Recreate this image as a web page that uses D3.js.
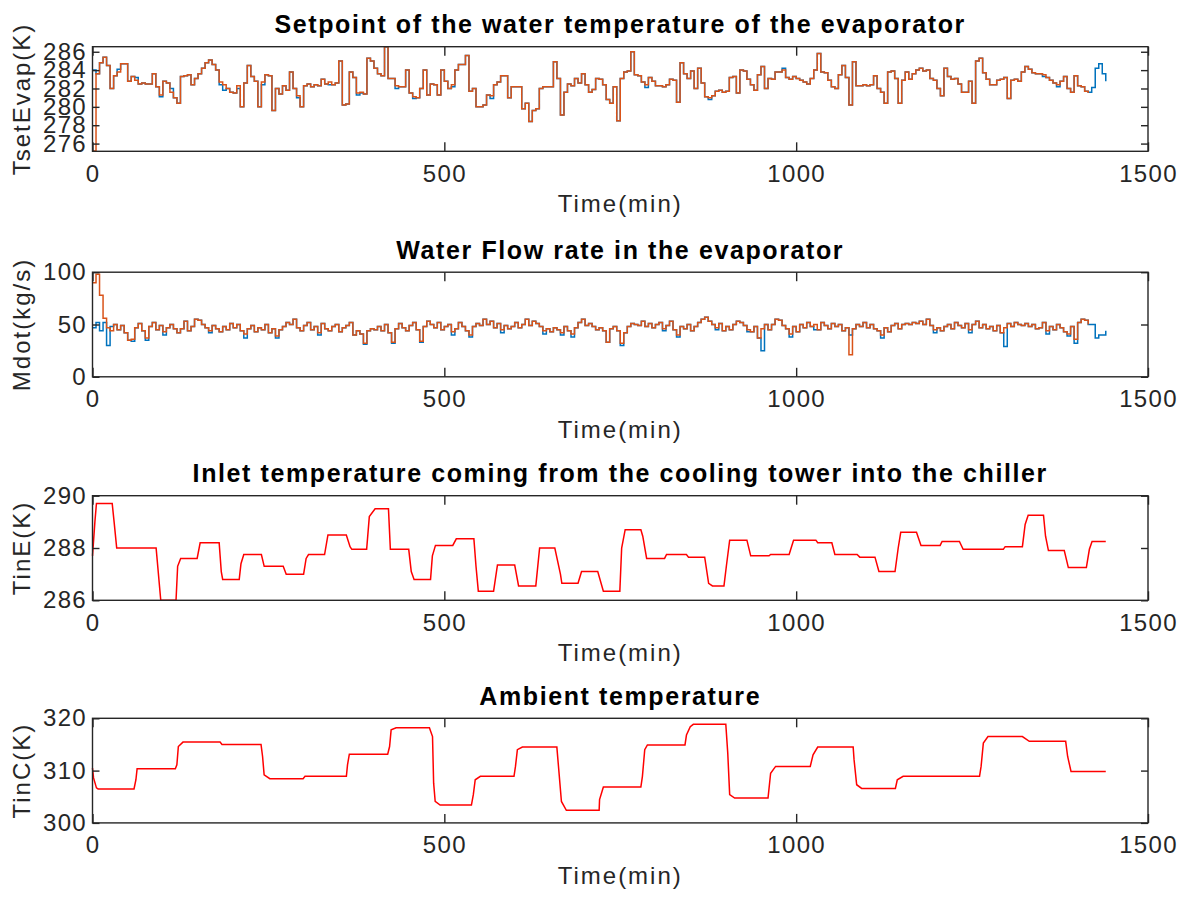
<!DOCTYPE html>
<html>
<head>
<meta charset="utf-8">
<script src="https://cdn.jsdelivr.net/npm/d3@7"></script>
<style>
  html, body { margin: 0; padding: 0; background: #fff; }
  svg { display: block; font-family: "Liberation Sans", Arial, Helvetica, sans-serif; }
</style>
</head>
<body>
<svg id="fig" width="1189" height="900"></svg>
<script>
// ---------------- data ----------------
// Sampling interval (min) of the evaporator setpoint / flow series
const sampleStep = 5;

// Evaporator water temperature setpoint (K), measured (orange) and reference (blue)
const tsetMeasured = [
  275.2, 283.6, 284.8, 285.4, 284.5, 282.0, 283.4, 283.8, 284.7, 284.7, 282.8, 283.3,
  282.9, 282.5, 282.6, 282.5, 282.5, 283.6, 282.2, 281.3, 282.8, 282.6, 281.6, 281.0,
  280.4, 283.3, 283.4, 283.5, 282.4, 283.1, 283.6, 284.2, 284.8, 285.1, 284.6, 284.0,
  282.7, 282.4, 282.0, 281.6, 281.5, 282.3, 280.0, 282.6, 284.5, 283.3, 282.8, 280.0,
  282.7, 283.5, 283.4, 279.6, 282.0, 281.4, 282.3, 281.8, 283.8, 282.0, 281.2, 280.0,
  282.3, 282.5, 282.2, 282.4, 282.3, 283.0, 282.5, 282.7, 282.4, 282.6, 285.0, 280.2,
  280.3, 283.8, 283.2, 281.5, 281.6, 281.4, 285.3, 285.0, 284.2, 283.6, 283.4, 286.55,
  283.1, 283.1, 282.3, 282.2, 282.2, 284.0, 281.5, 281.1, 281.0, 282.0, 284.0, 281.3,
  282.5, 282.4, 281.3, 284.0, 282.8, 282.0, 282.4, 284.0, 284.6, 284.6, 285.6, 281.7,
  282.0, 280.0, 280.0, 280.2, 281.3, 281.2, 282.4, 282.7, 283.4, 283.4, 281.0, 282.2,
  282.2, 282.2, 279.8, 280.4, 278.4, 279.6, 279.8, 282.0, 282.2, 282.2, 282.2, 284.9,
  283.1, 279.1, 281.6, 282.5, 282.3, 283.1, 282.6, 283.6, 282.4, 281.6, 281.9, 283.1,
  283.0, 282.4, 280.8, 280.4, 282.2, 278.5, 283.1, 283.8, 283.9, 286.0, 283.5, 283.4,
  282.7, 282.4, 283.2, 282.8, 282.3, 282.3, 282.2, 282.4, 283.0, 282.9, 280.5, 284.8,
  283.6, 283.1, 283.9, 282.0, 284.2, 282.6, 281.1, 281.0, 281.2, 281.7, 281.8, 281.6,
  281.7, 283.2, 283.3, 281.5, 284.0, 283.9, 283.0, 282.4, 281.8, 283.5, 284.4, 282.0,
  283.1, 283.0, 283.8, 283.8, 284.0, 283.2, 283.0, 283.3, 283.1, 282.9, 282.7, 282.5,
  283.1, 284.0, 285.8, 283.8, 283.7, 282.9, 282.2, 282.0, 283.5, 284.5, 283.2, 280.2,
  284.9, 282.3, 282.3, 282.4, 282.3, 282.4, 283.4, 282.0, 281.6, 280.4, 283.8, 283.9,
  283.1, 280.4, 282.9, 283.8, 283.0, 283.6, 284.0, 284.2, 283.9, 284.0, 283.1, 282.9,
  282.0, 281.2, 284.2, 283.3, 283.0, 283.1, 282.5, 281.6, 281.6, 282.8, 280.4, 285.0,
  285.3, 283.7, 283.0, 282.4, 282.4, 282.9, 283.0, 283.2, 280.9, 282.9, 283.0, 282.8,
  283.8, 284.4, 284.1, 283.7, 283.6, 283.6, 283.5, 283.2, 282.9, 282.6, 282.4, 282.8,
  283.3, 282.0, 281.6, 283.4, 282.3, 282.2, 281.7, 281.5
];
const tsetReference = [
  284.0, 283.6, 284.8, 285.4, 284.5, 282.0, 283.4, 284.1, 284.7, 284.7, 282.8, 283.3,
  283.2, 282.5, 282.6, 282.5, 282.5, 283.6, 282.2, 281.1, 282.8, 282.6, 282.0, 281.0,
  280.4, 283.3, 283.4, 283.5, 282.4, 283.1, 283.6, 284.2, 284.8, 285.1, 284.6, 284.0,
  282.4, 281.8, 282.0, 281.6, 281.5, 282.0, 280.0, 282.6, 284.5, 283.3, 282.8, 280.0,
  282.4, 283.5, 283.4, 279.6, 282.0, 281.4, 282.3, 281.8, 283.8, 282.0, 281.0, 280.0,
  282.3, 282.5, 282.2, 282.4, 282.3, 283.0, 282.5, 282.4, 282.4, 282.6, 285.0, 280.2,
  280.3, 283.8, 283.2, 281.3, 281.5, 281.4, 285.3, 285.0, 284.2, 283.6, 283.4, 286.55,
  283.1, 283.1, 282.0, 282.2, 282.2, 284.0, 281.5, 280.9, 281.0, 282.0, 284.0, 281.3,
  282.5, 282.4, 281.3, 284.0, 282.8, 282.0, 282.2, 284.0, 284.6, 284.6, 285.6, 281.7,
  282.0, 280.0, 280.0, 280.2, 281.3, 280.9, 282.4, 282.7, 283.4, 283.4, 281.0, 282.2,
  282.2, 282.2, 279.8, 280.4, 278.4, 279.6, 279.8, 282.0, 282.2, 282.2, 282.2, 284.9,
  283.1, 279.1, 281.6, 282.5, 282.3, 283.1, 282.6, 283.6, 282.4, 281.6, 281.9, 283.1,
  283.0, 282.4, 280.8, 280.4, 282.2, 278.5, 283.1, 283.8, 283.9, 286.0, 283.5, 283.4,
  282.7, 282.1, 283.2, 282.8, 282.3, 282.3, 282.2, 282.4, 283.0, 282.9, 280.5, 284.8,
  283.6, 283.1, 283.9, 282.0, 284.2, 282.6, 281.1, 280.8, 281.2, 281.7, 281.8, 281.6,
  281.7, 283.2, 283.3, 281.5, 284.0, 283.9, 283.0, 282.4, 281.8, 283.5, 284.4, 282.0,
  283.1, 283.0, 283.8, 283.8, 284.2, 283.2, 283.0, 283.3, 283.1, 282.9, 282.7, 282.5,
  283.1, 284.0, 285.8, 283.8, 283.7, 282.9, 282.2, 282.0, 283.5, 284.5, 283.2, 280.2,
  284.9, 282.3, 282.3, 282.4, 282.3, 282.4, 283.4, 282.0, 281.6, 280.4, 283.8, 283.9,
  283.1, 280.4, 282.9, 283.8, 283.0, 283.6, 284.0, 284.2, 283.9, 284.0, 283.1, 282.9,
  282.0, 281.2, 284.2, 283.3, 283.0, 283.1, 282.5, 281.6, 281.6, 282.8, 280.4, 285.0,
  285.3, 283.7, 283.0, 282.4, 282.4, 282.9, 283.0, 283.2, 280.9, 282.9, 283.0, 282.8,
  283.8, 284.4, 284.1, 283.7, 283.6, 283.6, 283.3, 283.2, 282.9, 282.6, 282.2, 282.8,
  283.3, 282.0, 281.6, 283.4, 282.3, 282.2, 281.7, 281.6, 282.1, 284.2, 284.7, 283.6,
  282.8
];

// Evaporator water flow rate (kg/s), measured (orange) and reference (blue)
const mdotMeasured = [
  90, 98, 78, 56, 47, 44, 50, 45, 49, 42, 35, 36,
  47, 51, 44, 37, 48, 52, 45, 49, 43, 47, 50, 46,
  42, 46, 53, 44, 48, 55, 54, 50, 47, 44, 49, 46,
  43, 48, 45, 51, 47, 50, 44, 41, 46, 49, 43, 47,
  45, 50, 42, 46, 39, 45, 48, 52, 50, 55, 47, 44,
  49, 52, 45, 48, 42, 51, 46, 44, 48, 50, 43, 47,
  49, 52, 40, 44, 41, 32, 44, 46, 45, 48, 44, 50,
  42, 33, 46, 51, 47, 44, 49, 52, 45, 34, 48, 53,
  50, 47, 52, 45, 48, 50, 43, 46, 52, 48, 44, 40,
  48, 51, 49, 55, 50, 53, 47, 51, 45, 49, 46, 48,
  52, 47, 50, 55, 49, 53, 51, 48, 44, 46, 43, 47,
  45, 42, 48, 44, 41, 47, 52, 55, 49, 51, 48, 45,
  47, 44, 33, 46, 48, 44, 32, 42, 48, 51, 50, 49,
  53, 48, 51, 47, 50, 52, 46, 49, 53, 45, 40, 48,
  46, 50, 44, 48, 52, 55, 57, 53, 50, 47, 51, 44,
  48, 45, 50, 53, 52, 49, 45, 43, 48, 37, 46, 50,
  45, 50, 55, 54, 49, 46, 41, 48, 43, 50, 47, 52,
  48, 50, 45, 52, 49, 46, 51, 48, 50, 44, 47, 21,
  46, 50, 48, 52, 47, 50, 46, 44, 40, 47, 43, 49,
  51, 46, 50, 51, 50, 52, 51, 53, 50, 55, 49, 45,
  47, 44, 48, 50, 46, 52, 49, 47, 51, 45, 50, 53,
  47, 50, 46, 48, 44, 49, 42, 47, 51, 48, 52, 50,
  49, 51, 48, 50, 46, 47, 52, 44, 48, 45, 50, 47,
  43, 41, 48, 36, 52, 55, 54, 50
];
const mdotReference = [
  47, 52, 44, 52, 30, 48, 50, 45, 49, 42, 35, 34,
  47, 51, 44, 35, 48, 52, 45, 49, 40, 47, 50, 46,
  42, 46, 53, 44, 48, 55, 54, 50, 47, 42, 49, 46,
  43, 48, 45, 51, 47, 50, 44, 37, 46, 49, 43, 47,
  45, 50, 42, 46, 37, 45, 48, 52, 50, 55, 47, 44,
  49, 52, 45, 48, 40, 51, 46, 44, 48, 50, 43, 47,
  49, 52, 40, 44, 41, 31, 44, 46, 45, 48, 44, 50,
  42, 32, 46, 51, 47, 44, 49, 52, 45, 33, 48, 53,
  50, 47, 52, 45, 48, 50, 40, 46, 52, 48, 44, 38,
  48, 51, 49, 55, 50, 53, 47, 51, 42, 49, 46, 48,
  52, 47, 50, 55, 49, 53, 51, 48, 41, 46, 43, 47,
  45, 40, 48, 44, 38, 47, 52, 55, 49, 51, 48, 45,
  47, 44, 33, 46, 48, 44, 30, 42, 48, 51, 50, 49,
  53, 48, 51, 47, 50, 52, 44, 49, 53, 45, 38, 48,
  46, 50, 44, 48, 52, 55, 57, 53, 50, 45, 51, 44,
  48, 45, 50, 53, 52, 49, 43, 43, 48, 37, 25, 50,
  45, 50, 55, 54, 49, 46, 38, 48, 43, 50, 47, 52,
  48, 45, 45, 52, 49, 46, 51, 48, 50, 44, 47, 40,
  46, 50, 48, 52, 47, 50, 46, 44, 37, 47, 43, 49,
  51, 46, 50, 51, 50, 52, 51, 53, 50, 55, 49, 42,
  47, 44, 48, 50, 46, 52, 49, 47, 51, 42, 50, 53,
  47, 50, 46, 48, 44, 49, 42, 29, 51, 48, 52, 50,
  49, 51, 48, 50, 46, 47, 52, 41, 48, 45, 50, 47,
  43, 39, 48, 32, 52, 55, 54, 50, 50, 37, 40, 40,
  44
];

// Cooling tower water inlet temperature (K): breakpoints (min) and values
const tinETime = [
  0, 3.4, 5.6, 28, 30.7, 34.4, 90.4, 97, 118.7, 121, 125.3, 148.7, 153, 180, 183, 185,
  208.5, 211, 215, 240, 244, 271, 275.3, 300, 303.6, 307, 329.8, 334.6, 360.7, 366,
  368.5, 389.6, 393.4, 401.6, 420.6, 423.3, 449.4, 453, 457, 480.4, 483, 487.4, 512,
  517, 542, 545, 548.3, 570, 575.5, 600, 605.5, 630, 635.4, 657, 665, 667, 690, 695,
  718, 726, 749.4, 752, 757, 779.3, 782, 787.5, 813, 815.8, 844, 847, 870, 875.6, 881,
  897.4, 901, 905.5, 930, 935.4, 961.5, 963.7, 990, 996.3, 1028, 1030.6, 1050.7, 1055,
  1086.6, 1090.4, 1112, 1117.6, 1140.5, 1145, 1148.6, 1171, 1177.4, 1204.6, 1207.4,
  1232, 1237.3, 1294.4, 1297, 1321.5, 1325.4, 1329.7, 1351.5, 1354.4, 1358.5, 1381,
  1386.8, 1412.4, 1416.7, 1420.5, 1440
];
const tinEValue = [
  287.7, 289.0, 289.7, 289.7, 289.0, 288.0, 288.0, 286.0, 286.0, 287.3, 287.6, 287.6,
  288.2, 288.2, 287.1, 286.8, 286.8, 287.4, 287.75, 287.75, 287.3, 287.3, 287.0, 287.0,
  287.6, 287.75, 287.75, 288.5, 288.5, 288.05, 287.95, 287.95, 289.2, 289.5, 289.5,
  287.95, 287.95, 287.1, 286.8, 286.8, 287.7, 288.1, 288.1, 288.35, 288.35, 287.3,
  286.35, 286.35, 287.35, 287.35, 286.55, 286.55, 288.0, 288.0, 287.0, 286.65, 286.65,
  287.1, 287.1, 286.35, 286.35, 288.0, 288.7, 288.7, 288.45, 287.6, 287.6, 287.75,
  287.75, 287.65, 287.65, 286.65, 286.55, 286.55, 287.35, 288.3, 288.3, 287.7, 287.7,
  287.75, 287.75, 288.3, 288.3, 288.2, 288.2, 287.75, 287.75, 287.65, 287.65, 287.1,
  287.1, 288.0, 288.6, 288.6, 288.1, 288.1, 288.25, 288.25, 287.95, 287.95, 288.05,
  288.05, 288.9, 289.25, 289.25, 288.45, 287.9, 287.9, 287.25, 287.25, 287.95, 288.25,
  288.25
];

// Ambient temperature (K): breakpoints (min) and values
const tinCTime = [
  0, 1.5, 5.6, 8, 59, 61.7, 63.4, 117.7, 119.9, 122, 128.6, 181.3, 184, 239.5, 241.7,
  243.9, 252, 299.3, 302, 360.8, 362.4, 365, 419.5, 422.2, 424.4, 431.5, 478.8, 483.2,
  484.8, 487, 494, 538.5, 541.2, 543.9, 551.2, 599, 601.1, 603.8, 610.9, 659.9, 662.6,
  666.4, 673.4, 720, 720.6, 726, 779.3, 781.5, 784.8, 788.6, 842, 844.1, 849.5, 853.8,
  900, 902.8, 905.5, 912.6, 960, 963.7, 970.8, 1020, 1024, 1030.6, 1081, 1082.3, 1086,
  1093, 1141, 1143.7, 1152, 1260.6, 1262.8, 1266, 1272.6, 1321.5, 1331.3, 1383,
  1385.8, 1390.6, 1440
];
const tinCValue = [
  310.5, 308.6, 306.7, 306.5, 306.5, 308.25, 310.35, 310.35, 311.1, 314.6, 315.45,
  315.45, 315.0, 315.0, 312.7, 309.2, 308.45, 308.45, 308.9, 308.9, 311.1, 313.15,
  313.15, 314.6, 317.8, 318.2, 318.2, 316.5, 307.6, 304.1, 303.4, 303.4, 305.4, 308.25,
  308.9, 308.9, 310.8, 314.0, 314.5, 314.5, 310.2, 304.1, 302.4, 302.4, 304.45, 306.85,
  306.85, 308.9, 314.0, 314.9, 314.9, 316.8, 318.4, 318.85, 318.85, 313.3, 305.4,
  304.75, 304.75, 309.5, 310.8, 310.8, 313.0, 314.5, 314.5, 312.05, 307.3, 306.6, 306.6,
  308.25, 308.9, 308.9, 310.8, 315.25, 316.5, 316.5, 315.6, 315.6, 312.7, 309.85,
  309.85
];

// Axis settings
const xDomain = [0, 1500];
const xTicks = [0, 500, 1000, 1500];
const panelTitles = [
  "Setpoint of the water temperature of the evaporator",
  "Water Flow rate in the evaporator",
  "Inlet temperature coming from the cooling tower into the chiller",
  "Ambient temperature"
];
const yLabels = ["TsetEvap(K)", "Mdot(kg/s)", "TinE(K)", "TinC(K)"];
const yDomains = [[275.16, 286.55], [0, 100], [286, 290], [300, 320]];
const yTicks = [[276, 278, 280, 282, 284, 286], [0, 50, 100], [286, 288, 290], [300, 310, 320]];
const xLabel = "Time(min)";

// ---------------- layout ----------------
const plotLeft = 92.5, plotRight = 1148;
const panelTops = [46.7, 272.2, 495.7, 718.3];
const panelH = 104.6;
const axisColor = "#262626";
const blue = "#0072BD", orange = "#D95319", red = "#FF0000";
const tickFmt = d3.format("d");

const sampled = (vals) => vals.map((v, i) => ({ t: i * sampleStep, v }));
const paired = (ts, vs) => ts.map((t, i) => ({ t, v: vs[i] }));

const panels = [
  { series: [
      { data: sampled(tsetReference), color: blue, curve: d3.curveStepAfter },
      { data: sampled(tsetMeasured), color: orange, curve: d3.curveStepAfter } ] },
  { series: [
      { data: sampled(mdotReference), color: blue, curve: d3.curveStepAfter },
      { data: sampled(mdotMeasured), color: orange, curve: d3.curveStepAfter } ] },
  { series: [ { data: paired(tinETime, tinEValue), color: red, curve: d3.curveLinear } ] },
  { series: [ { data: paired(tinCTime, tinCValue), color: red, curve: d3.curveLinear } ] }
];

const svg = d3.select("#fig");
const x = d3.scaleLinear().domain(xDomain).range([plotLeft, plotRight]);
const cx = (plotLeft + plotRight) / 2;

panels.forEach((p, k) => {
  const top = panelTops[k], bottom = top + panelH;
  const y = d3.scaleLinear().domain(yDomains[k]).range([bottom, top]);
  const g = svg.append("g");

  // data lines
  const line = (curve) => d3.line().x(d => x(d.t)).y(d => y(d.v)).curve(curve);
  p.series.forEach(s => {
    g.append("path")
      .datum(s.data)
      .attr("fill", "none")
      .attr("stroke", s.color)
      .attr("stroke-width", 1.5)
      .attr("stroke-linejoin", "miter")
      .attr("d", line(s.curve));
  });

  // axes with inward ticks on all four sides
  const bottomAxis = d3.axisBottom(x).tickValues(xTicks).tickFormat(tickFmt)
    .tickSizeInner(-9).tickSizeOuter(0).tickPadding(13.5);
  const topAxis = d3.axisTop(x).tickValues(xTicks).tickSizeInner(-9).tickSizeOuter(0).tickFormat("");
  const leftAxis = d3.axisLeft(y).tickValues(yTicks[k]).tickFormat(tickFmt)
    .tickSizeInner(-7).tickSizeOuter(0).tickPadding(5.5);
  const rightAxis = d3.axisRight(y).tickValues(yTicks[k]).tickSizeInner(-7).tickSizeOuter(0).tickFormat("");

  const styleAxis = (sel) => {
    sel.select(".domain").remove();
    sel.selectAll("line").attr("stroke", axisColor).attr("stroke-width", 1.4);
    sel.selectAll("text")
      .attr("fill", axisColor)
      .style("font-size", "24px")
      .style("letter-spacing", "1.3px")
      .style("font-family", "'Liberation Sans', Arial, sans-serif");
  };
  g.append("g").attr("transform", `translate(0,${bottom})`).call(bottomAxis).call(styleAxis);
  g.append("g").attr("transform", `translate(0,${top})`).call(topAxis).call(styleAxis);
  g.append("g").attr("transform", `translate(${plotLeft},0)`).call(leftAxis).call(styleAxis);
  g.append("g").attr("transform", `translate(${plotRight},0)`).call(rightAxis).call(styleAxis);

  // box
  g.append("rect")
    .attr("x", plotLeft).attr("y", top)
    .attr("width", plotRight - plotLeft).attr("height", panelH)
    .attr("fill", "none").attr("stroke", axisColor).attr("stroke-width", 1.4);

  // title
  g.append("text")
    .attr("x", cx).attr("y", top - 13.5)
    .attr("text-anchor", "middle")
    .attr("fill", "#000")
    .style("font-size", "25px").style("font-weight", "bold")
    .style("letter-spacing", "1.6px")
    .text(panelTitles[k]);

  // x label
  g.append("text")
    .attr("x", cx).attr("y", bottom + 61)
    .attr("text-anchor", "middle")
    .attr("fill", axisColor)
    .style("font-size", "24px").style("letter-spacing", "2px")
    .text(xLabel);

  // y label
  g.append("text")
    .attr("transform", `translate(30,${(top + bottom) / 2}) rotate(-90)`)
    .attr("text-anchor", "middle")
    .attr("fill", axisColor)
    .style("font-size", "24px").style("letter-spacing", "2px")
    .text(yLabels[k]);
});
</script>
</body>
</html>
